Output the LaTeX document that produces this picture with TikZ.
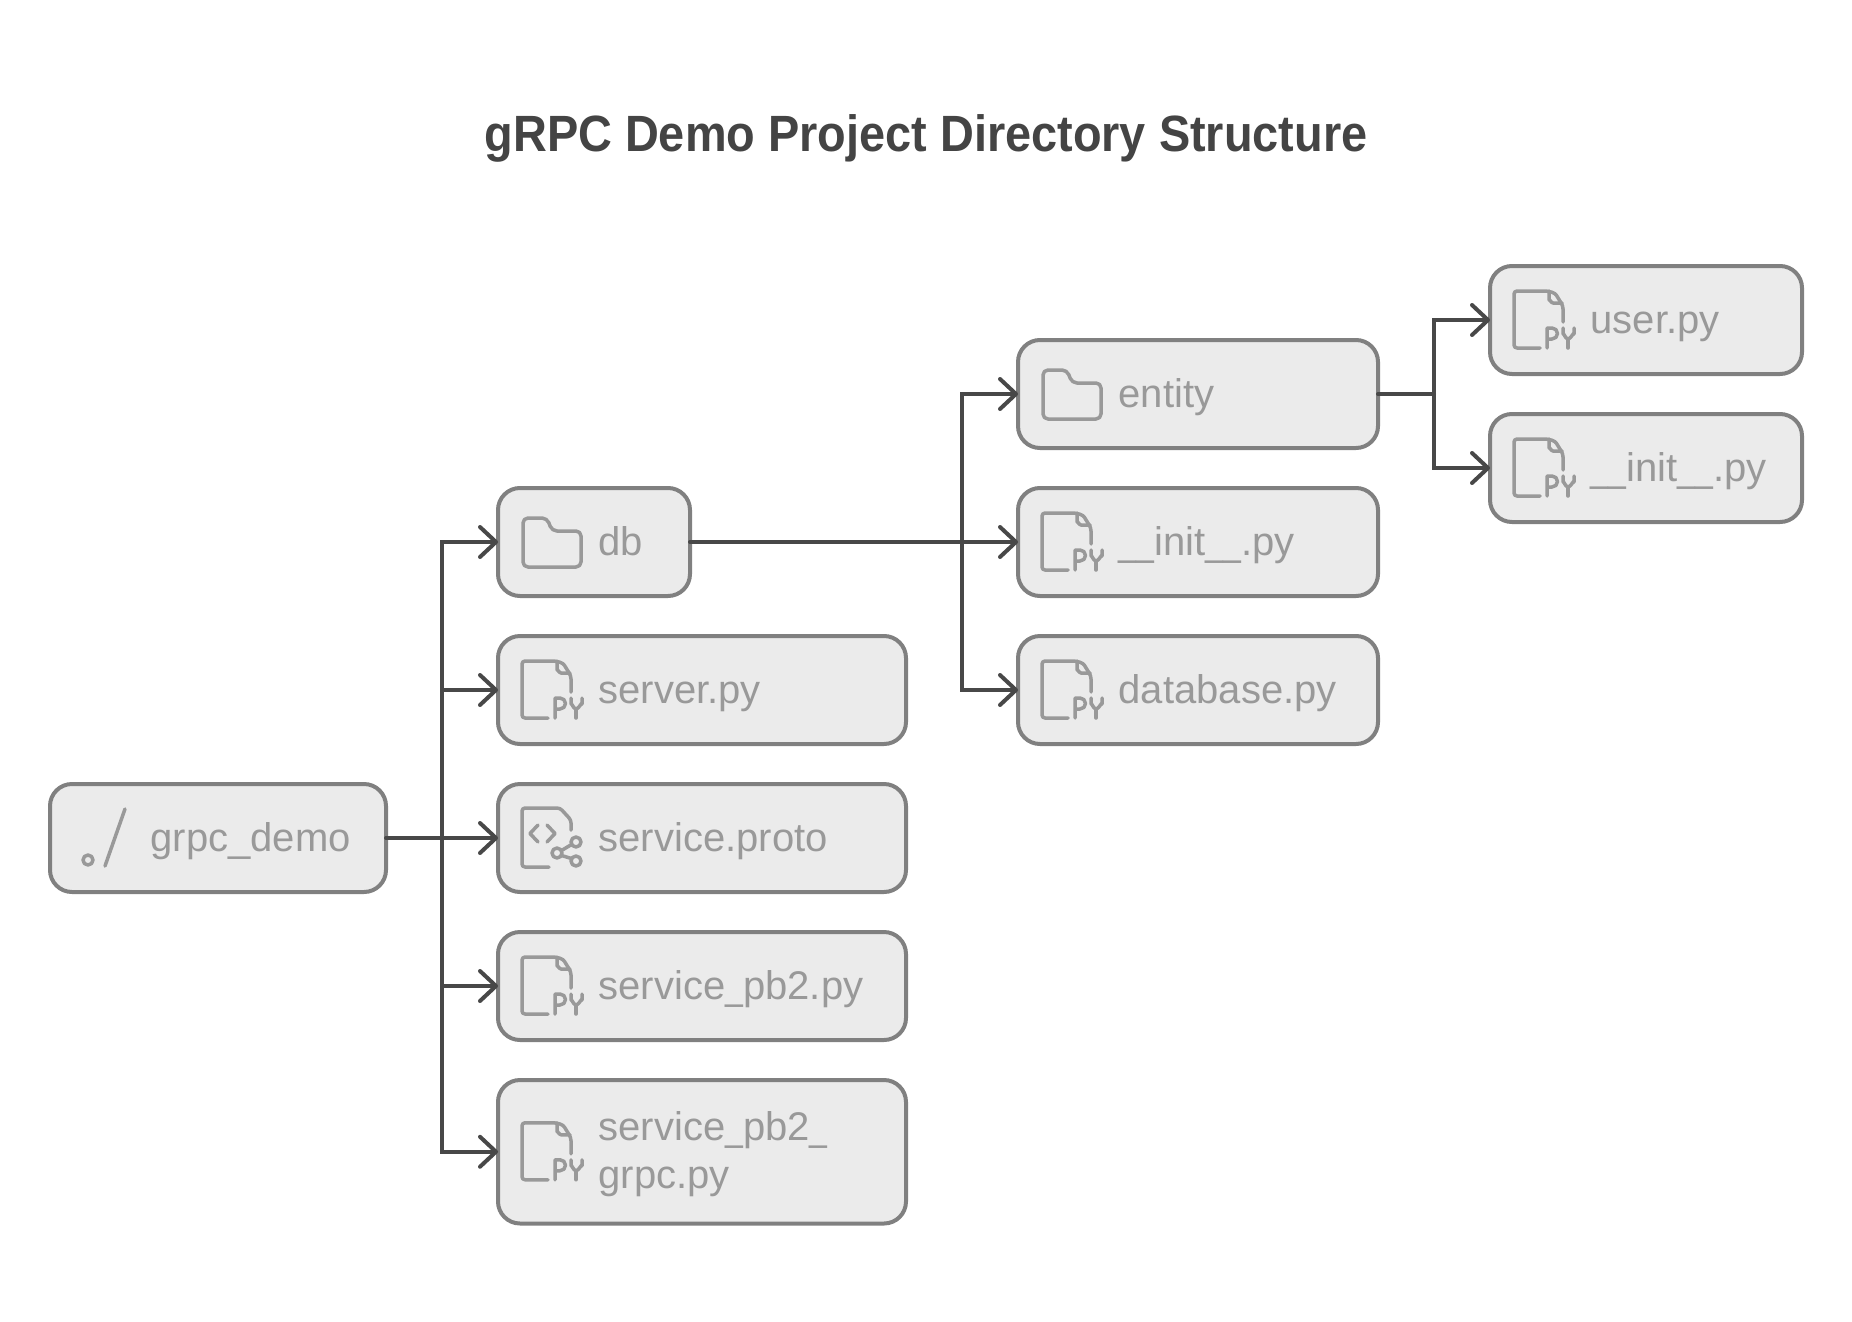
\documentclass[tikz,border=0pt]{standalone}
\usepackage{fontspec}
\setmainfont{Liberation Sans}
\newfontfamily\titlefont[FakeStretch=0.919]{Liberation Sans}
\usetikzlibrary{arrows.meta,calc}
\definecolor{boxfill}{HTML}{EBEBEB}
\definecolor{boxline}{HTML}{808080}
\definecolor{inkgrey}{HTML}{999999}
\definecolor{conngrey}{HTML}{484848}
\definecolor{titlegrey}{HTML}{444444}
\newcommand{\us}{\scalebox{.8}[1]{\_}}
\tikzset{
  x=1pt,y=-1pt,
  boxnode/.style={draw=boxline,fill=boxfill,line width=4pt,rounded corners=22pt,inner sep=0pt,outer sep=0pt,anchor=north west},
  labelnode/.style={text=inkgrey,inner sep=0pt,anchor=base west,align=left,font=\fontsize{40}{48}\selectfont},
  icon/.style={draw=inkgrey,line width=3.5pt,line cap=round,line join=round},
  conn/.style={draw=conngrey,line width=4pt,line cap=round,line join=miter},
  head/.style={conn,-{Straight Barb[length=16pt,width=30pt,line width=4pt,round]}},
  pyicon/.pic={
    \draw[icon,rounded corners=3pt] (50,28)--(24,28)--(24,-29)--(57,-29)--(65,-27)--(73,-14)--(73,2);
    \draw[icon] (59,-29)--(59,-20) to[out=90,in=180] (63,-17)--(72,-17);
    \draw[icon] (57,28)--(57,8)--(62,8) arc[start angle=-90,end angle=90,radius=5.5]--(57,19);
    \draw[icon] (73,8)--(73,14) to[out=90,in=180] (78,19) to[out=0,in=90] (84,14)--(84,8);
    \draw[icon] (78,19)--(78,28);
  },
  foldericon/.pic={
    \draw[icon,rounded corners=5pt] (25,-24)--(49,-24)--(54,-11)--(83,-11)--(83,25)--(25,25)--cycle;
  },
  protoicon/.pic={
    \draw[icon,rounded corners=3pt] (51,29)--(24,29)--(24,-30)--(62,-30)--(73,-18)--(73,-8);
    \draw[icon] (40,-13)--(32,-4.5)--(40,4);
    \draw[icon] (49,-13)--(57,-4.5)--(49,4);
    \draw[icon] (78,4) circle[radius=5];
    \draw[icon] (59,15) circle[radius=5];
    \draw[icon] (78,23) circle[radius=5];
    \draw[icon] (63.5,12.5)--(73.5,6.5);
    \draw[icon] (63.5,17.5)--(73.5,20.5);
  },
  rooticon/.pic={
    \draw[icon] (38,22) circle[radius=5];
    \draw[icon] (55,28)--(75,-29);
  }
}
% name, left, top, width, height, icon, text
\newcommand{\entry}[7]{%
  \node[boxnode,minimum width=#4pt,minimum height=#5pt] (#1) at (#2,#3) {};
  \pic at (#1.west) {#6};
  \node[labelnode] (#1label) at ($(#1.west)+(100.5,13)$) {#7};
}
\begin{document}
\begin{tikzpicture}
\useasboundingbox (0,0) rectangle (1852,1322);
\fill[white] (0,0) rectangle (1852,1322);
\node[anchor=base,inner sep=0pt,text=titlegrey,font=\fontsize{51}{60}\selectfont\titlefont\bfseries] (title) at (926,151) {gRPC Demo Project Directory Structure};

\entry{root}{50}{784}{336}{108}{rooticon}{grpc\_demo}
\entry{db}{498}{488}{192}{108}{foldericon}{db}
\entry{server}{498}{636}{408}{108}{pyicon}{server.py}
\entry{proto}{498}{784}{408}{108}{protoicon}{service.proto}
\entry{pbtwo}{498}{932}{408}{108}{pyicon}{service\us pb2.py}
\node[boxnode,minimum width=408pt,minimum height=143.5pt] (grpc) at (498,1080) {};
\pic at (grpc.west) {pyicon};
\node[labelnode] (grpclabel) at ($(grpc.west)+(100.5,-11)$) {service\us pb2\us};
\node[labelnode] (grpclabeltwo) at ($(grpc.west)+(100.5,37)$) {grpc.py};
\entry{entity}{1018}{340}{360}{108}{foldericon}{entity}
\entry{dbinit}{1018}{488}{360}{108}{pyicon}{\us\us init\us\us.py}
\entry{database}{1018}{636}{360}{108}{pyicon}{database.py}
\entry{user}{1490}{266}{312}{108}{pyicon}{user.py}
\entry{entinit}{1490}{414}{312}{108}{pyicon}{\us\us init\us\us.py}

\coordinate (busa) at (442,838);
\coordinate (busb) at (962,542);
\coordinate (busc) at (1434,394);
\draw[conn] (root.east) -- (busa |- root.east);
\foreach \t in {db,server,proto,pbtwo,grpc}{
  \draw[head] (busa |- root.east) |- (\t.west);
}
\draw[conn] (db.east) -- (busb |- db.east);
\foreach \t in {entity,dbinit,database}{
  \draw[head] (busb |- db.east) |- (\t.west);
}
\draw[conn] (entity.east) -- (busc |- entity.east);
\foreach \t in {user,entinit}{
  \draw[head] (busc |- entity.east) |- (\t.west);
}
\end{tikzpicture}
\end{document}
